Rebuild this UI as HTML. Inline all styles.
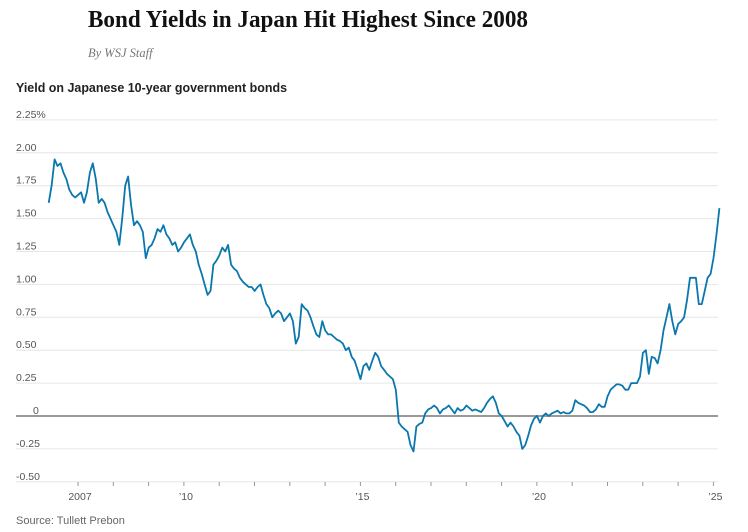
<!DOCTYPE html>
<html><head><meta charset="utf-8"><style>
body{margin:0;background:#fff;width:748px;height:532px;overflow:hidden}
svg{display:block}
</style></head><body>
<svg id="chart" width="748" height="532" xmlns="http://www.w3.org/2000/svg">
<text x="88" y="27" font-family="Liberation Serif, serif" font-weight="bold" font-size="24" fill="#111" textLength="440" lengthAdjust="spacingAndGlyphs">Bond Yields in Japan Hit Highest Since 2008</text>
<text x="88" y="57" font-family="Liberation Serif, serif" font-style="italic" font-size="12.5" fill="#777">By WSJ Staff</text>
<text x="16" y="92" font-family="Liberation Sans, sans-serif" font-weight="bold" font-size="13" fill="#222" textLength="271" lengthAdjust="spacingAndGlyphs">Yield on Japanese 10-year government bonds</text>
<g id="grid"></g><g id="xaxis"></g>
<path id="line" fill="none" stroke="#0a77ad" stroke-width="1.8" stroke-linejoin="round"/>
<text x="16" y="524" font-family="Liberation Sans, sans-serif" font-size="11" fill="#666">Source: Tullett Prebon</text>
</svg>
<script>
const startYear = 2006.17;
const yTicks = [2.25,2,1.75,1.5,1.25,1,0.75,0.5,0.25,0,-0.25,-0.5];
const yTickLabels = ["2.25%","2.00","1.75","1.50","1.25","1.00","0.75","0.50","0.25","0","-0.25","-0.50"];
const xTickYears = [2007,2010,2015,2020,2025];
const xTickLabels = ["2007","\u201910","\u201915","\u201920","\u201925"];
const yields = [
1.62,1.75,1.95,1.90,1.92,1.85,1.80,1.72,1.68,1.66,
1.68,1.70,1.62,1.70,1.85,1.92,1.80,1.62,1.65,1.62,1.55,1.50,
1.45,1.40,1.30,1.50,1.75,1.82,1.60,1.45,1.48,1.45,1.40,1.20,
1.28,1.30,1.35,1.42,1.40,1.45,1.38,1.35,1.30,1.32,1.25,1.28,
1.32,1.35,1.38,1.30,1.25,1.15,1.08,1.00,0.92,0.95,1.15,1.18,
1.22,1.28,1.25,1.30,1.15,1.12,1.10,1.05,1.02,1.00,0.98,0.98,
0.95,0.98,1.00,0.92,0.85,0.82,0.75,0.78,0.80,0.78,0.72,0.75,
0.78,0.72,0.55,0.60,0.85,0.82,0.80,0.75,0.68,0.62,0.60,0.72,
0.65,0.62,0.62,0.60,0.58,0.57,0.55,0.50,0.52,0.45,0.42,0.35,
0.28,0.38,0.40,0.35,0.42,0.48,0.45,0.38,0.35,0.32,0.30,0.28,
0.20,-0.05,-0.08,-0.10,-0.12,-0.22,-0.27,-0.08,-0.06,-0.05,0.02,0.05,
0.06,0.08,0.06,0.02,0.05,0.06,0.08,0.05,0.02,0.06,0.04,0.05,
0.08,0.06,0.04,0.05,0.04,0.03,0.06,0.10,0.13,0.15,0.10,0.02,
0.00,-0.04,-0.08,-0.05,-0.08,-0.12,-0.15,-0.25,-0.22,-0.15,-0.07,-0.02,
0.00,-0.05,0.00,0.02,0.00,0.02,0.03,0.04,0.02,0.03,0.02,0.02,
0.04,0.12,0.10,0.09,0.08,0.06,0.03,0.03,0.05,0.09,0.07,0.07,
0.15,0.20,0.22,0.24,0.24,0.23,0.20,0.20,0.25,0.25,0.25,0.30,
0.48,0.50,0.32,0.45,0.44,0.40,0.50,0.65,0.75,0.85,0.72,0.62,
0.70,0.72,0.75,0.88,1.05,1.05,1.05,0.85,0.85,0.95,1.05,1.08,
1.20,1.38,1.58];
const NS="http://www.w3.org/2000/svg";
function xs(yr){return 78+(yr-2007)*35.3;}
function ys(v){return 416-v*131.6;}
const grid=document.getElementById('grid');
yTicks.forEach((t,i)=>{
  const ln=document.createElementNS(NS,'line');
  
  
  ln.setAttribute('x1',16);ln.setAttribute('x2',718);
  ln.setAttribute('y1',ys(t));ln.setAttribute('y2',ys(t));
  ln.setAttribute('stroke',t===0?'#999':'#e6e6e6');ln.setAttribute('stroke-width',t===0?2:1);
  grid.appendChild(ln);
  const tx=document.createElementNS(NS,'text');
  
  
  tx.setAttribute('x',t===0?33:16);tx.setAttribute('y',ys(t)-2);
  tx.setAttribute('font-family','Liberation Sans, sans-serif');tx.setAttribute('font-size','10.5');tx.setAttribute('fill','#555');
  tx.textContent=yTickLabels[i];grid.appendChild(tx);
});
const xa=document.getElementById('xaxis');
for(let yr=2007;yr<=2025;yr++){
  const tk=document.createElementNS(NS,'line');
  
  
  tk.setAttribute('x1',xs(yr));tk.setAttribute('x2',xs(yr));tk.setAttribute('y1',482);tk.setAttribute('y2',486);
  tk.setAttribute('stroke','#999');xa.appendChild(tk);
}
xTickYears.forEach((yr,i)=>{
  const tx=document.createElementNS(NS,'text');
  
  
  tx.setAttribute('x',xs(yr)+2);tx.setAttribute('y',500);tx.setAttribute('text-anchor','middle');
  tx.setAttribute('font-family','Liberation Sans, sans-serif');tx.setAttribute('font-size','10.5');tx.setAttribute('fill','#555');
  tx.textContent=xTickLabels[i];xa.appendChild(tx);
});
let d='';
yields.forEach((v,i)=>{d+=(i?'L':'M')+xs(startYear+i/12).toFixed(1)+','+ys(v).toFixed(1);});
document.getElementById('line').setAttribute('d',d);
</script>
</body></html>
